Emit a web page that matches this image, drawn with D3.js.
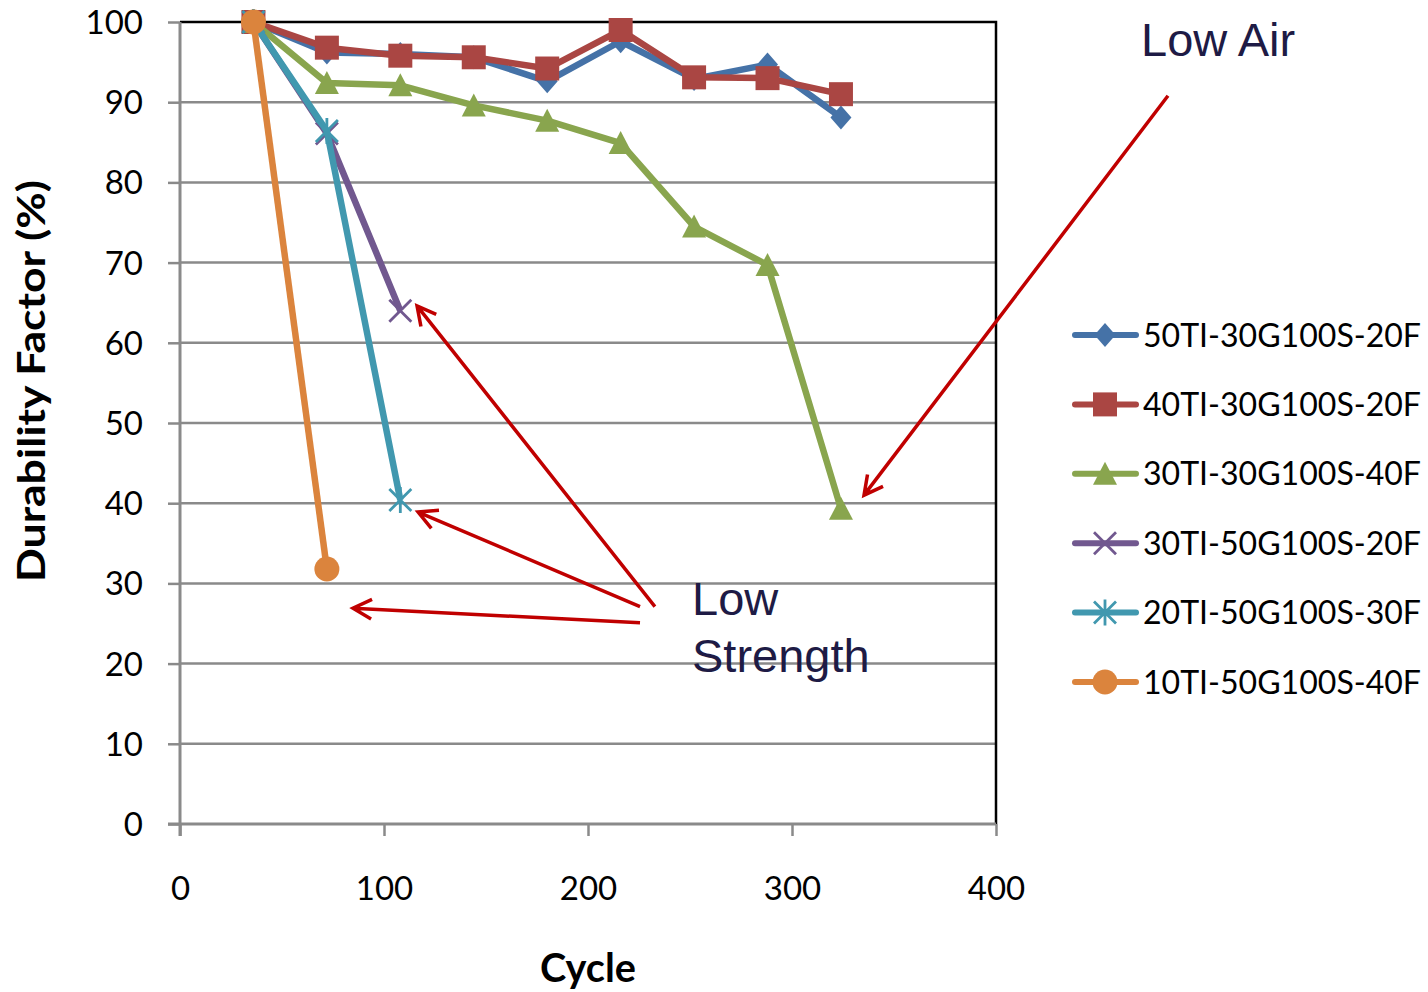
<!DOCTYPE html>
<html>
<head>
<meta charset="utf-8">
<script src="https://cdn.jsdelivr.net/npm/d3@7"></script>
<style>
  html, body { margin: 0; padding: 0; background: #fff; }
  svg { display: block; }
</style>
</head>
<body>
<svg id="chart" width="1428" height="992"></svg>
<script>
// Freeze–thaw cycles at which each mix was measured
const cycles = [36, 72, 108, 144, 180, 216, 252, 288, 324];

// Durability factor (%) per mix
const seriesNames = [
  "50TI-30G100S-20F",
  "40TI-30G100S-20F",
  "30TI-30G100S-40F",
  "30TI-50G100S-20F",
  "20TI-50G100S-30F",
  "10TI-50G100S-40F"
];
const df50TI = [100, 96.2, 96.0, 95.6, 92.6, 97.6, 92.9, 94.7, 88.1];
const df40TI = [100, 96.8, 95.8, 95.6, 94.2, 99.0, 93.1, 93.0, 91.0];
const df30TI30G = [100, 92.4, 92.1, 89.6, 87.7, 84.9, 74.5, 69.7, 39.3];
const df30TI50G = [100, 86.1, 64.0];
const df20TI = [100, 86.4, 40.4];
const df10TI = [100, 31.8];

const xTicks = [0, 100, 200, 300, 400];
const yTicks = [0, 10, 20, 30, 40, 50, 60, 70, 80, 90, 100];

const colors = ["#4572A7", "#AA4643", "#89A54E", "#71588F", "#4198AF", "#DB843D"];
const markers = ["diamond", "square", "triangle", "x", "star", "circle"];

const seriesValues = [df50TI, df40TI, df30TI30G, df30TI50G, df20TI, df10TI];
const series = seriesNames.map((name, i) => ({
  name,
  color: colors[i],
  marker: markers[i],
  points: seriesValues[i].map((v, j) => ({ x: cycles[j], y: v }))
}));

// Annotation arrows, in data units: [tailCycle, tailDF, tipCycle, tipDF]
const arrows = [
  [232.8, 27.1, 116.2, 64.6],
  [225.5, 27.1, 116.7, 38.9],
  [225.5, 25.1, 84.8, 26.9],
  [484.3, 90.8, 335.3, 41.0]
];

const svg = d3.select("#chart");
const plotL = 180, plotR = 996, plotT = 22, plotB = 824;
const x = d3.scaleLinear().domain([0, 400]).range([plotL, plotR]);
const y = d3.scaleLinear().domain([0, 100]).range([plotB, plotT]);

const gridColor = "#8a8a8a";
const font = "Lato, 'Open Sans', sans-serif";

// Horizontal gridlines
svg.append("g")
  .selectAll("line")
  .data(yTicks.filter(d => d > 0 && d < 100))
  .join("line")
  .attr("x1", plotL).attr("x2", plotR)
  .attr("y1", d => y(d)).attr("y2", d => y(d))
  .attr("stroke", gridColor).attr("stroke-width", 2.5);

// Plot frame: black top and right edges
svg.append("path")
  .attr("d", `M${plotL},${y(100)}H${plotR}V${plotB}`)
  .attr("fill", "none").attr("stroke", "#000").attr("stroke-width", 2.5);

// Y axis
const yAxis = svg.append("g")
  .attr("transform", `translate(${plotL},0)`)
  .call(d3.axisLeft(y).tickValues(yTicks).tickSize(12).tickPadding(25).tickSizeOuter(0));
yAxis.select(".domain").attr("stroke", gridColor).attr("stroke-width", 3)
  .attr("d", `M0,${plotT}V${plotB + 12}`);
yAxis.selectAll(".tick line").attr("stroke", gridColor).attr("stroke-width", 2.5);
yAxis.selectAll(".tick text")
  .attr("font-family", font).attr("font-size", 33).attr("fill", "#000")
  .attr("dy", "0.35em");

// X axis
const xAxis = svg.append("g")
  .attr("transform", `translate(0,${plotB})`)
  .call(d3.axisBottom(x).tickValues(xTicks).tickSize(12).tickSizeOuter(0));
xAxis.select(".domain").attr("stroke", gridColor).attr("stroke-width", 3)
  .attr("d", `M${plotL - 12},0H${plotR}`);
xAxis.selectAll(".tick line").attr("stroke", gridColor).attr("stroke-width", 2.5);
xAxis.selectAll(".tick text")
  .attr("font-family", font).attr("font-size", 33).attr("fill", "#000")
  .attr("y", 64).attr("dy", "0.35em");

// Axis titles
svg.append("text")
  .attr("x", (plotL + plotR) / 2).attr("y", 982)
  .attr("text-anchor", "middle")
  .attr("font-family", font).attr("font-weight", "bold").attr("font-size", 40)
  .attr("textLength", 96).attr("lengthAdjust", "spacingAndGlyphs")
  .text("Cycle");

svg.append("text")
  .attr("transform", `translate(45,${381}) rotate(-90)`)
  .attr("text-anchor", "middle")
  .attr("font-family", font).attr("font-weight", "bold").attr("font-size", 38)
  .attr("textLength", 402).attr("lengthAdjust", "spacingAndGlyphs")
  .text("Durability Factor (%)");

// Marker shapes
function markerPath(type) {
  switch (type) {
    case "diamond": return "M0,-12L10.5,0L0,12L-10.5,0Z";
    case "square": return "M-12,-12H12V12H-12Z";
    case "triangle": return "M0,-12L12,11L-12,11Z";
    case "circle": return d3.symbol(d3.symbolCircle, Math.PI * 12.5 * 12.5)();
    case "x": return "M-11,-11L11,11M-11,11L11,-11";
    case "star": return "M-11,-11L11,11M-11,11L11,-11M0,-13V13";
  }
}
function drawMarker(g, type, color) {
  const p = g.append("path").attr("d", markerPath(type));
  if (type === "x" || type === "star") {
    p.attr("fill", "none").attr("stroke", color).attr("stroke-width", 2.8);
  } else {
    p.attr("fill", color).attr("stroke", "none");
  }
}

// Series lines and markers
const line = d3.line().x(d => x(d.x)).y(d => y(d.y));
series.forEach(s => {
  const g = svg.append("g");
  g.append("path")
    .datum(s.points)
    .attr("d", line)
    .attr("fill", "none")
    .attr("stroke", s.color)
    .attr("stroke-width", 6.5)
    .attr("stroke-linejoin", "round");
  s.points.forEach(p => {
    const m = g.append("g").attr("transform", `translate(${x(p.x)},${y(p.y)})`);
    drawMarker(m, s.marker, s.color);
  });
});

// Legend
const legend = svg.append("g");
series.forEach((s, i) => {
  const cy = 335 + i * 69.4;
  const row = legend.append("g").attr("transform", `translate(0,${cy})`);
  row.append("line")
    .attr("x1", 1075).attr("x2", 1136).attr("y1", 0).attr("y2", 0)
    .attr("stroke", s.color).attr("stroke-width", 6).attr("stroke-linecap", "round");
  drawMarker(row.append("g").attr("transform", "translate(1105,0)"), s.marker, s.color);
  row.append("text")
    .attr("x", 1143).attr("y", 0).attr("dy", "0.36em")
    .attr("font-family", font).attr("font-size", 32).attr("fill", "#000")
    .attr("textLength", 278).attr("lengthAdjust", "spacingAndGlyphs")
    .text(s.name);
});

// Annotation arrows
const arrowColor = "#C00000";
arrows.forEach(([tx, ty, hx, hy]) => {
  const x0 = x(tx), y0 = y(ty), x1 = x(hx), y1 = y(hy);
  const ang = Math.atan2(y1 - y0, x1 - x0);
  const len = 21, spread = Math.PI / 6.5;
  const a1 = [x1 - len * Math.cos(ang - spread), y1 - len * Math.sin(ang - spread)];
  const a2 = [x1 - len * Math.cos(ang + spread), y1 - len * Math.sin(ang + spread)];
  svg.append("path")
    .attr("d", `M${x0},${y0}L${x1},${y1}M${a1[0]},${a1[1]}L${x1},${y1}L${a2[0]},${a2[1]}`)
    .attr("fill", "none").attr("stroke", arrowColor).attr("stroke-width", 3.5)
    .attr("stroke-linejoin", "miter");
});

// Annotation labels
const noteFont = "'Liberation Sans', Arial, sans-serif";
const noteColor = "#1E1B45";
svg.append("text")
  .attr("x", 1141).attr("y", 56)
  .attr("font-family", noteFont).attr("font-size", 47).attr("fill", noteColor)
  .text("Low Air");
const ls = svg.append("text")
  .attr("font-family", noteFont).attr("font-size", 47).attr("fill", noteColor);
ls.append("tspan").attr("x", 692).attr("y", 615).text("Low");
ls.append("tspan").attr("x", 692).attr("y", 672).text("Strength");
</script>
</body>
</html>
